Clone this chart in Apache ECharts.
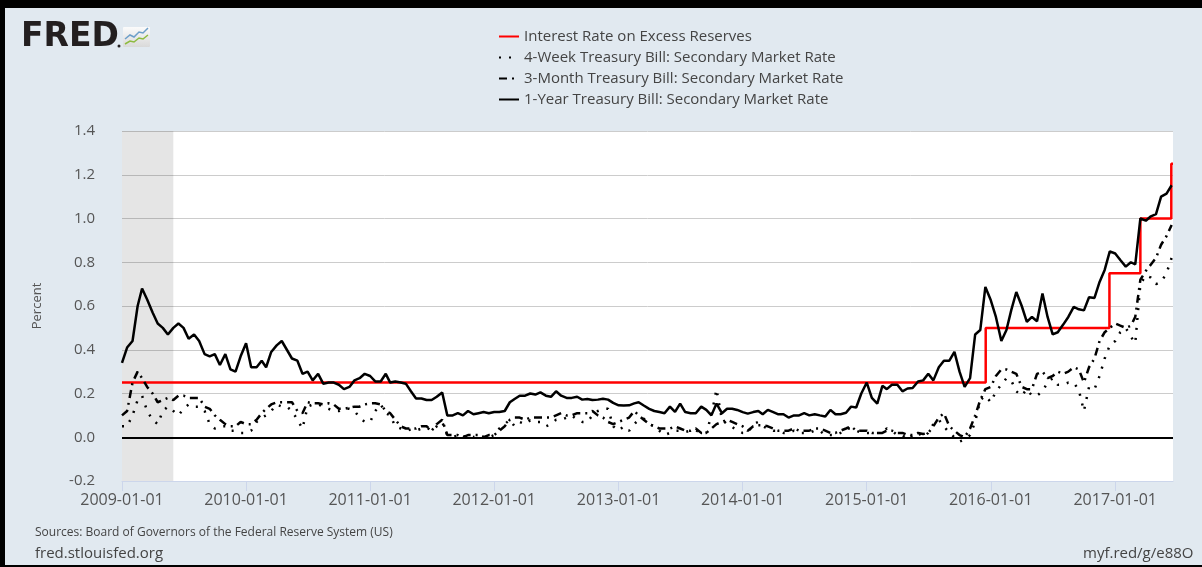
<!DOCTYPE html>
<html>
<head>
<meta charset="utf-8">
<script src="https://cdn.jsdelivr.net/npm/echarts@6/dist/echarts.min.js"></script>
<style>
html,body{margin:0;padding:0;background:#e1e9f0;overflow:hidden;}
#chart{width:1202px;height:567px;}
</style>
</head>
<body>
<div id="chart"></div>
<script>
// ---- Series names (legend order) ----
const seriesNames = [
  'Interest Rate on Excess Reserves',
  '4-Week Treasury Bill: Secondary Market Rate',
  '3-Month Treasury Bill: Secondary Market Rate',
  '1-Year Treasury Bill: Secondary Market Rate'
];

// ---- Interest rate on excess reserves (step changes) ----
const ioerDates  = ['2009-01-01','2015-12-17','2016-12-15','2017-03-16','2017-06-15','2017-06-20'];
const ioerValues = [0.25, 0.50, 0.75, 1.00, 1.25, 1.25];

// ---- T-bill rates, semi-monthly readings (1st and 16th of each month, Jan 2009 - Jun 2017) ----
const oneYear = [
  0.34,0.41, 0.44,0.60, 0.68,0.63, 0.57,0.52, 0.50,0.47, 0.50,0.52, 0.50,0.45, 0.47,0.44, 0.38,0.37, 0.38,0.33, 0.38,0.31, 0.30,0.37,
  0.43,0.32, 0.32,0.35, 0.32,0.39, 0.42,0.44, 0.40,0.36, 0.35,0.29, 0.30,0.26, 0.29,0.245, 0.25,0.25, 0.24,0.22, 0.23,0.26, 0.27,0.29,
  0.28,0.255, 0.255,0.29, 0.25,0.255, 0.25,0.245, 0.21,0.177, 0.177,0.17, 0.17,0.185, 0.205,0.10, 0.10,0.11, 0.10,0.12, 0.105,0.11, 0.115,0.11,
  0.115,0.115, 0.12,0.16, 0.175,0.19, 0.19,0.20, 0.195,0.205, 0.19,0.185, 0.21,0.19, 0.18,0.18, 0.185,0.172, 0.175,0.17, 0.172,0.176, 0.172,0.157,
  0.146,0.145, 0.146,0.155, 0.16,0.145, 0.13,0.12, 0.115,0.11, 0.14,0.116, 0.154,0.115, 0.11,0.11, 0.14,0.125, 0.10,0.154, 0.11,0.13, 0.13,0.125,
  0.115,0.108, 0.115,0.12, 0.105,0.125, 0.115,0.105, 0.105,0.09, 0.10,0.10, 0.11,0.10, 0.105,0.10, 0.095,0.125, 0.105,0.105, 0.112,0.14, 0.136,0.20,
  0.25,0.18, 0.154,0.235, 0.22,0.24, 0.24,0.21, 0.223,0.225, 0.255,0.26, 0.29,0.26, 0.32,0.35, 0.35,0.39, 0.30,0.23, 0.27,0.47, 0.49,0.687,
  0.626,0.55, 0.44,0.49, 0.58,0.664, 0.60,0.527, 0.55,0.53, 0.657,0.55, 0.47,0.48, 0.515,0.55, 0.596,0.585, 0.58,0.64, 0.637,0.71, 0.765,0.85,
  0.84,0.81, 0.78,0.80, 0.79,1.00, 0.99,1.01, 1.02,1.10, 1.114,1.152
];
const threeMonth = [
  0.10,0.12, 0.25,0.30, 0.27,0.23, 0.20,0.16, 0.17,0.18, 0.17,0.19, 0.19,0.18, 0.18,0.18, 0.14,0.13, 0.10,0.08, 0.06,0.05, 0.05,0.07,
  0.06,0.06, 0.08,0.11, 0.13,0.15, 0.16,0.16, 0.16,0.16, 0.12,0.11, 0.16,0.155, 0.155,0.15, 0.155,0.15, 0.13,0.13, 0.135,0.14, 0.14,0.15,
  0.155,0.155, 0.15,0.12, 0.11,0.08, 0.05,0.04, 0.04,0.04, 0.05,0.05, 0.03,0.06, 0.08,0.01, 0.01,0.01, 0.00,0.01, 0.01,0.01, 0.00,0.01,
  0.01,0.03, 0.05,0.08, 0.09,0.09, 0.08,0.09, 0.09,0.09, 0.09,0.09, 0.10,0.11, 0.10,0.10, 0.11,0.11, 0.11,0.12, 0.10,0.09, 0.07,0.06,
  0.07,0.08, 0.09,0.12, 0.10,0.08, 0.06,0.05, 0.04,0.04, 0.04,0.05, 0.04,0.03, 0.03,0.04, 0.02,0.02, 0.04,0.06, 0.07,0.08, 0.07,0.06,
  0.05,0.03, 0.05,0.055, 0.055,0.05, 0.04,0.03, 0.03,0.03, 0.04,0.03, 0.03,0.03, 0.04,0.04, 0.03,0.02, 0.02,0.03, 0.04,0.05, 0.03,0.03,
  0.03,0.02, 0.02,0.02, 0.03,0.03, 0.02,0.02, 0.01,0.01, 0.02,0.015, 0.02,0.05, 0.09,0.11, 0.05,0.03, 0.01,0.00, 0.04,0.10, 0.17,0.22,
  0.23,0.28, 0.31,0.31, 0.30,0.29, 0.23,0.22, 0.22,0.29, 0.30,0.27, 0.28,0.30, 0.29,0.30, 0.32,0.31, 0.25,0.32, 0.36,0.44, 0.48,0.50,
  0.52,0.51, 0.50,0.51, 0.55,0.72, 0.76,0.79, 0.82,0.88, 0.92,0.97
];
const fourWeek = [
  0.05,0.05, 0.10,0.17, 0.19,0.12, 0.08,0.06, 0.12,0.14, 0.12,0.10, 0.13,0.15, 0.14,0.14, 0.12,0.06, 0.04,0.05, 0.05,0.03, 0.03,0.02,
  0.02,0.03, 0.07,0.09, 0.10,0.12, 0.15,0.14, 0.14,0.12, 0.08,0.04, 0.14,0.15, 0.15,0.14, 0.13,0.12, 0.12,0.13, 0.13,0.12, 0.09,0.07,
  0.07,0.12, 0.15,0.11, 0.10,0.05, 0.04,0.03, 0.035,0.03, 0.04,0.045, 0.03,0.05, 0.07,0.01, 0.00,0.01, 0.00,0.01, 0.00,0.01, 0.00,0.00,
  0.01,0.04, 0.06,0.08, 0.05,0.07, 0.06,0.078, 0.07,0.07, 0.05,0.06, 0.08,0.08, 0.09,0.10, 0.08,0.07, 0.07,0.10, 0.12,0.13, 0.13,0.05,
  0.03,0.05, 0.03,0.06, 0.08,0.085, 0.06,0.05, 0.03,0.01, 0.02,0.03, 0.03,0.024, 0.03,0.032, 0.02,0.02, 0.10,0.22, 0.08,0.06, 0.047,0.03,
  0.02,0.02, 0.06,0.07, 0.05,0.04, 0.03,0.03, 0.02,0.02, 0.03,0.02, 0.02,0.02, 0.03,0.03, 0.01,0.01, 0.01,0.02, 0.04,0.04, 0.03,0.02,
  0.02,0.02, 0.02,0.02, 0.04,0.03, 0.01,0.01, -0.01,0.01, 0.02,0.00, 0.02,0.06, 0.08,0.05, 0.02,0.00, -0.02,-0.01, 0.01,0.07, 0.17,0.19,
  0.16,0.21, 0.24,0.27, 0.26,0.21, 0.19,0.22, 0.19,0.19, 0.21,0.25, 0.27,0.24, 0.24,0.25, 0.25,0.215, 0.12,0.23, 0.22,0.28, 0.36,0.42,
  0.44,0.48, 0.50,0.46, 0.43,0.70, 0.74,0.73, 0.70,0.71, 0.75,0.82
];

// ---- Axis labels / ranges ----
const xTickLabels = ['2009-01-01','2010-01-01','2011-01-01','2012-01-01','2013-01-01','2014-01-01','2015-01-01','2016-01-01','2017-01-01'];
const xRange = ['2009-01-01','2017-06-20'];
const yRange = [-0.2, 1.4];
const yStep = 0.2;
const recession = ['2009-01-01','2009-06-01'];

// observation dates: 1st and 16th of each month
const obsDates = [];
for (let y = 2009; y <= 2017; y++) {
  for (let m = 1; m <= 12; m++) {
    for (const d of ['01','16']) {
      if (obsDates.length < oneYear.length) obsDates.push(y + '-' + String(m).padStart(2,'0') + '-' + d);
    }
  }
}
// dates -> UTC timestamps (x axis is a numeric time scale)
const ts = s => Date.UTC(+s.slice(0,4), +s.slice(5,7) - 1, +s.slice(8,10));
const pair = (dates, vals) => vals.map((v, i) => [ts(dates[i]), v]);
const pad = n => String(n).padStart(2, '0');
const fmtDate = v => { const d = new Date(v); return d.getUTCFullYear() + '-' + pad(d.getUTCMonth() + 1) + '-' + pad(d.getUTCDate()); };

const FONT = '"Open Sans", "Liberation Sans", sans-serif';
const chart = echarts.init(document.getElementById('chart'), null, {renderer: 'canvas'});

chart.setOption({
  backgroundColor: '#e1e9f0',
  animation: false,
  textStyle: {fontFamily: FONT},
  grid: {left: 122, right: 29, top: 131, bottom: 86, show: true, backgroundColor: '#ffffff', borderWidth: 0},
  legend: {
    orient: 'vertical', left: 498, top: 29, padding: 0,
    itemWidth: 20, itemHeight: 14, itemGap: 6,
    itemStyle: {color: 'rgba(0,0,0,0)', borderWidth: 0},
    textStyle: {fontSize: 15, color: '#444', fontFamily: FONT},
    data: seriesNames
  },
  xAxis: {
    type: 'value',
    min: ts(xRange[0]), max: ts(xRange[1]),
    axisLine: {show: true, onZero: false, lineStyle: {color: '#ccd6eb', width: 1}},
    axisTick: {show: true, length: 10, lineStyle: {color: '#ccd6eb'}, customValues: xTickLabels.map(ts)},
    axisLabel: {
      color: '#555', fontSize: 16, margin: 11, fontFamily: FONT,
      customValues: xTickLabels.map(ts),
      formatter: v => fmtDate(v)
    },
    splitLine: {show: false}
  },
  yAxis: {
    type: 'value', min: yRange[0], max: yRange[1], interval: yStep,
    name: 'Percent', nameLocation: 'middle', nameGap: 78, nameRotate: 90,
    nameTextStyle: {fontSize: 13, color: '#555', fontFamily: FONT},
    axisLine: {show: false}, axisTick: {show: false},
    axisLabel: {color: '#555', fontSize: 15, margin: 27, fontFamily: FONT, formatter: v => v.toFixed(1)},
    splitLine: {show: true, lineStyle: {color: '#cccccc', width: 1}}
  },
  series: [
    {
      name: seriesNames[0], type: 'line', step: 'end', symbol: 'none', showSymbol: false,
      data: pair(ioerDates, ioerValues),
      lineStyle: {color: '#ff0000', width: 2.5}, itemStyle: {color: '#ff0000'},
      markArea: {silent: true, itemStyle: {color: 'rgba(0,0,0,0.1)'}, data: [[{xAxis: ts(recession[0])}, {xAxis: ts(recession[1])}]]},
      markLine: {silent: true, symbol: 'none', label: {show: false}, lineStyle: {color: '#000', width: 2, type: 'solid'}, data: [{yAxis: 0}]},
      z: 2
    },
    {
      name: seriesNames[1], type: 'line', symbol: 'none', showSymbol: false,
      data: pair(obsDates, fourWeek),
      lineStyle: {color: '#000', width: 2.5, type: [2, 8]}, itemStyle: {color: '#000'}, z: 3
    },
    {
      name: seriesNames[2], type: 'line', symbol: 'none', showSymbol: false,
      data: pair(obsDates, threeMonth),
      lineStyle: {color: '#000', width: 2.5, type: [8, 5, 2, 5]}, itemStyle: {color: '#000'}, z: 4
    },
    {
      name: seriesNames[3], type: 'line', symbol: 'none', showSymbol: false,
      data: pair(obsDates, oneYear),
      lineStyle: {color: '#000', width: 2.5}, itemStyle: {color: '#000'}, z: 5
    }
  ],
  graphic: [
    {type: 'rect', shape: {x: 0, y: 0, width: 1202, height: 8}, style: {fill: '#000'}, silent: true},
    {type: 'rect', shape: {x: 0, y: 0, width: 5, height: 567}, style: {fill: '#000'}, silent: true},
    {type: 'rect', shape: {x: 0, y: 565, width: 1202, height: 2}, style: {fill: '#000'}, silent: true},
    {type: 'text', x: 21, y: 37, style: {text: 'FRED', font: 'bold 33px "DejaVu Sans"', fill: '#231f20', verticalAlign: 'middle'}},
    {type: 'circle', shape: {cx: 119, cy: 46, r: 1.5}, style: {fill: '#231f20'}},
    {type: 'rect', shape: {x: 123, y: 27, width: 27, height: 20, r: 1},
      style: {fill: new echarts.graphic.LinearGradient(0, 0, 0, 1, [{offset: 0, color: '#fbfbfb'}, {offset: 1, color: '#d9d9d9'}])}},
    {type: 'polyline', shape: {points: [[125, 39], [130, 35], [134, 37], [139, 32], [143, 33], [148, 28]]}, style: {stroke: '#6d9fc9', lineWidth: 1.5, fill: null}},
    {type: 'polyline', shape: {points: [[125, 44], [130, 41], [134, 42], [139, 38], [143, 39], [148, 35]]}, style: {stroke: '#8dbb3f', lineWidth: 1.5, fill: null}},
    {type: 'text', x: 35, y: 533, style: {text: 'Sources: Board of Governors of the Federal Reserve System (US)', font: '12px "Open Sans"', fill: '#444', verticalAlign: 'middle'}},
    {type: 'text', x: 35, y: 554, style: {text: 'fred.stlouisfed.org', font: '15px "Open Sans"', fill: '#444', verticalAlign: 'middle'}},
    {type: 'text', x: 1083, y: 554, style: {text: 'myf.red/g/e88O', font: '15px "Open Sans"', fill: '#444', verticalAlign: 'middle'}}
  ]
});
</script>
</body>
</html>
